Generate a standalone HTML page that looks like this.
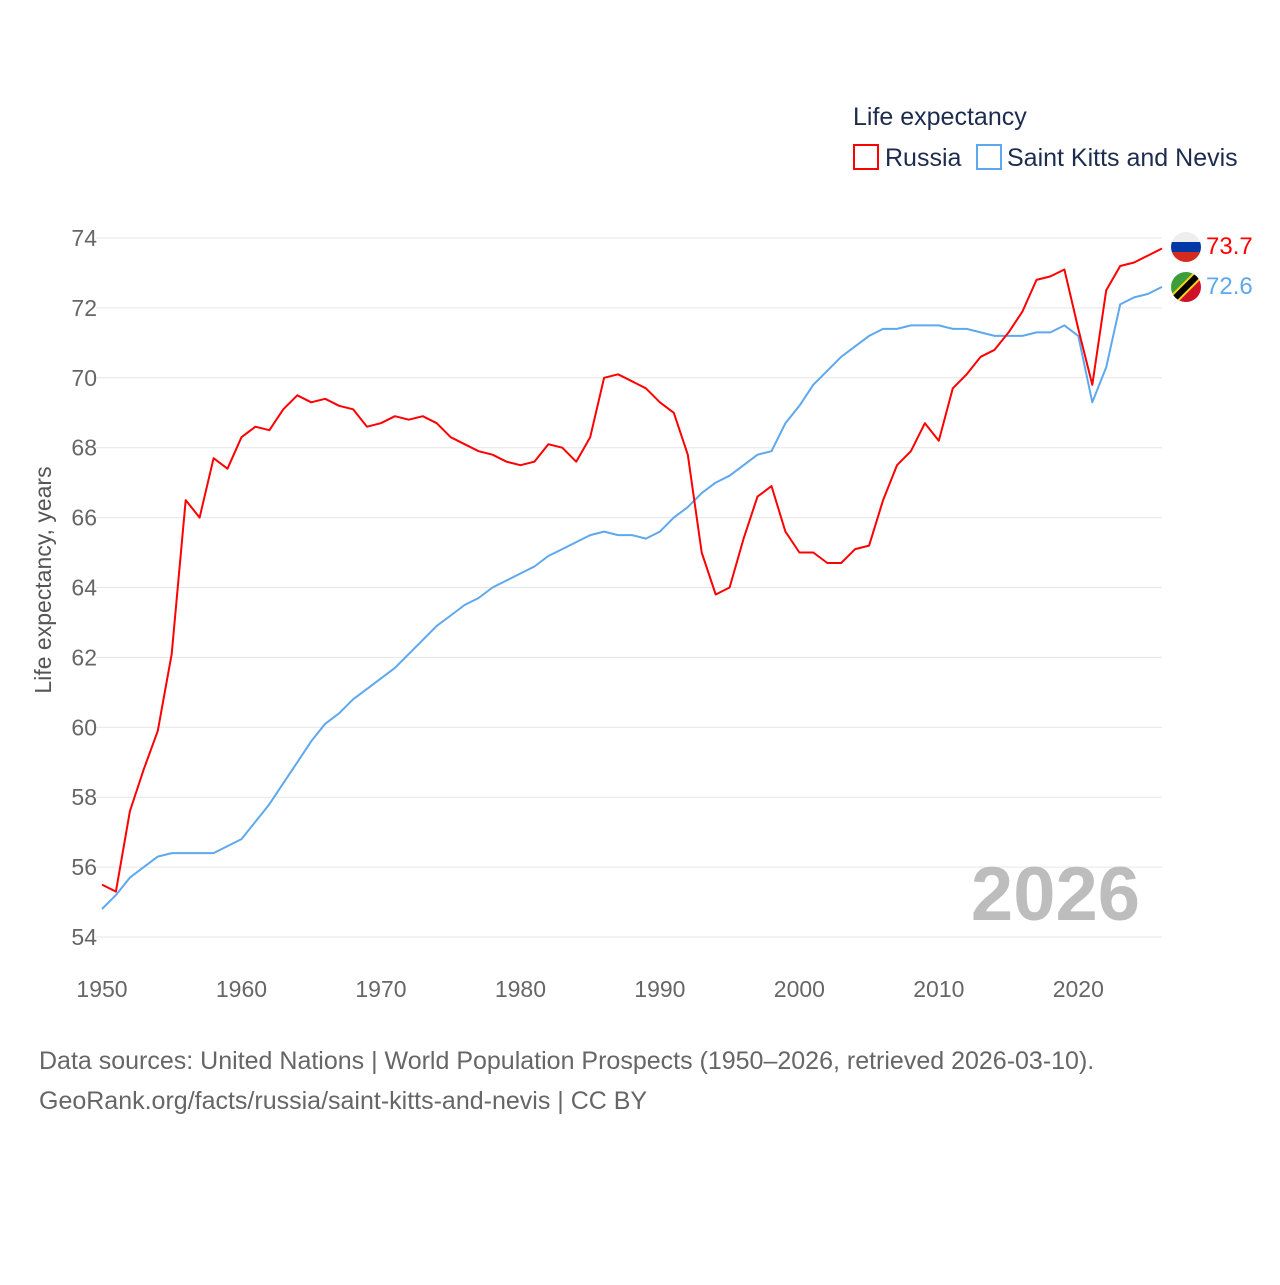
<!DOCTYPE html>
<html><head><meta charset="utf-8">
<style>
body{margin:0;background:#fff;font-family:"Liberation Sans",sans-serif;}
svg text{font-family:"Liberation Sans",sans-serif;}
</style></head>
<body>
<svg id="chart" width="1280" height="1280" viewBox="0 0 1280 1280" xmlns="http://www.w3.org/2000/svg">
<rect width="1280" height="1280" fill="#fff"/>
<text x="853" y="125" font-size="25" fill="#1d2b4f">Life expectancy</text>
<g>
<rect x="854" y="145" width="24" height="24" fill="none" stroke="#f00" stroke-width="2"/>
<text x="885" y="166" font-size="25" fill="#1d2b4f">Russia</text></g>
<g>
<rect x="977" y="145" width="24" height="24" fill="none" stroke="#5ea8ee" stroke-width="2"/>
<text x="1007" y="166" font-size="25" fill="#1d2b4f">Saint Kitts and Nevis</text></g>
<g id="grid"></g>
<text transform="translate(51,580) rotate(-90)" text-anchor="middle" font-size="23" fill="#555">Life expectancy, years</text>
<text x="1140" y="920" text-anchor="end" font-size="76" font-weight="bold" fill="#bdbdbd">2026</text>
<g id="lines"></g>
<g>
<clipPath id="c1"><circle cx="1186" cy="247" r="15"/></clipPath>
<g clip-path="url(#c1)"><rect x="1170" y="231" width="32" height="11" fill="#eee"/><rect x="1170" y="242" width="32" height="10" fill="#0039a6"/><rect x="1170" y="252" width="32" height="12" fill="#d52b1e"/></g></g>
<g>
<clipPath id="c2"><circle cx="1186" cy="287" r="15"/></clipPath>
<g clip-path="url(#c2)"><polygon points="1170,271 1202,271 1170,303" fill="#3b9e3a"/><polygon points="1202,271 1202,303 1170,303" fill="#ce1126"/><line x1="1168" y1="305" x2="1204" y2="269" stroke="#fcd116" stroke-width="10"/><line x1="1168" y1="305" x2="1204" y2="269" stroke="#000" stroke-width="6"/></g></g>
<text x="1206" y="254" font-size="24" fill="#f00">73.7</text>
<text x="1206" y="294" font-size="24" fill="#5ea8ee">72.6</text>
<text x="39" y="1069" font-size="25" fill="#666">Data sources: United Nations | World Population Prospects (1950–2026, retrieved 2026-03-10).</text>
<text x="39" y="1109" font-size="25" fill="#666">GeoRank.org/facts/russia/saint-kitts-and-nevis | CC BY</text>
</svg>
<script>
const years=[];for(let y=1950;y<=2026;y++)years.push(y);
const russia=[55.5,55.3,57.6,58.8,59.9,62.1,66.5,66.0,67.7,67.4,68.3,68.6,68.5,69.1,69.5,69.3,69.4,69.2,69.1,68.6,68.7,68.9,68.8,68.9,68.7,68.3,68.1,67.9,67.8,67.6,67.5,67.6,68.1,68.0,67.6,68.3,70.0,70.1,69.9,69.7,69.3,69.0,67.8,65.0,63.8,64.0,65.4,66.6,66.9,65.6,65.0,65.0,64.7,64.7,65.1,65.2,66.5,67.5,67.9,68.7,68.2,69.7,70.1,70.6,70.8,71.3,71.9,72.8,72.9,73.1,71.4,69.8,72.5,73.2,73.3,73.5,73.7];
const skn=[54.8,55.2,55.7,56.0,56.3,56.4,56.4,56.4,56.4,56.6,56.8,57.3,57.8,58.4,59.0,59.6,60.1,60.4,60.8,61.1,61.4,61.7,62.1,62.5,62.9,63.2,63.5,63.7,64.0,64.2,64.4,64.6,64.9,65.1,65.3,65.5,65.6,65.5,65.5,65.4,65.6,66.0,66.3,66.7,67.0,67.2,67.5,67.8,67.9,68.7,69.2,69.8,70.2,70.6,70.9,71.2,71.4,71.4,71.5,71.5,71.5,71.4,71.4,71.3,71.2,71.2,71.2,71.3,71.3,71.5,71.2,69.3,70.3,72.1,72.3,72.4,72.6];
const yTicks=[54,56,58,60,62,64,66,68,70,72,74];
const xTicks=[1950,1960,1970,1980,1990,2000,2010,2020];
const NS="http://www.w3.org/2000/svg";
const X=v=>102+(v-1950)*(1060/76);
const Y=v=>937-(v-54)*(699/20);
const grid=document.getElementById('grid');
yTicks.forEach(t=>{
 const l=document.createElementNS(NS,'line');
 
 
 l.setAttribute('x1',96);l.setAttribute('x2',1162);l.setAttribute('y1',Y(t));l.setAttribute('y2',Y(t));
 l.setAttribute('stroke','#e6e6e6');l.setAttribute('stroke-width','1');
 grid.appendChild(l);
 const tx=document.createElementNS(NS,'text');
 
 
 tx.setAttribute('x',97);tx.setAttribute('y',Y(t)+8);tx.setAttribute('text-anchor','end');
 tx.setAttribute('font-size','23');tx.setAttribute('fill','#666');tx.textContent=t;
 grid.appendChild(tx);
});
xTicks.forEach(t=>{
 const tx=document.createElementNS(NS,'text');
 
 
 tx.setAttribute('x',X(t));tx.setAttribute('y',997);tx.setAttribute('text-anchor','middle');
 tx.setAttribute('font-size','23');tx.setAttribute('fill','#666');tx.textContent=t;
 grid.appendChild(tx);
});
const lines=document.getElementById('lines');
function draw(data,color,name){
 const p=document.createElementNS(NS,'path');
 
 
 p.setAttribute('d',data.map((v,i)=>(i?'L':'M')+X(years[i]).toFixed(1)+','+Y(v).toFixed(1)).join(''));
 p.setAttribute('fill','none');p.setAttribute('stroke',color);p.setAttribute('stroke-width','2');
 p.setAttribute('stroke-linejoin','round');
 lines.appendChild(p);
}
draw(skn,'#5ea8ee','saint-kitts-line');
draw(russia,'#f00','russia-line');
</script>
</body></html>
